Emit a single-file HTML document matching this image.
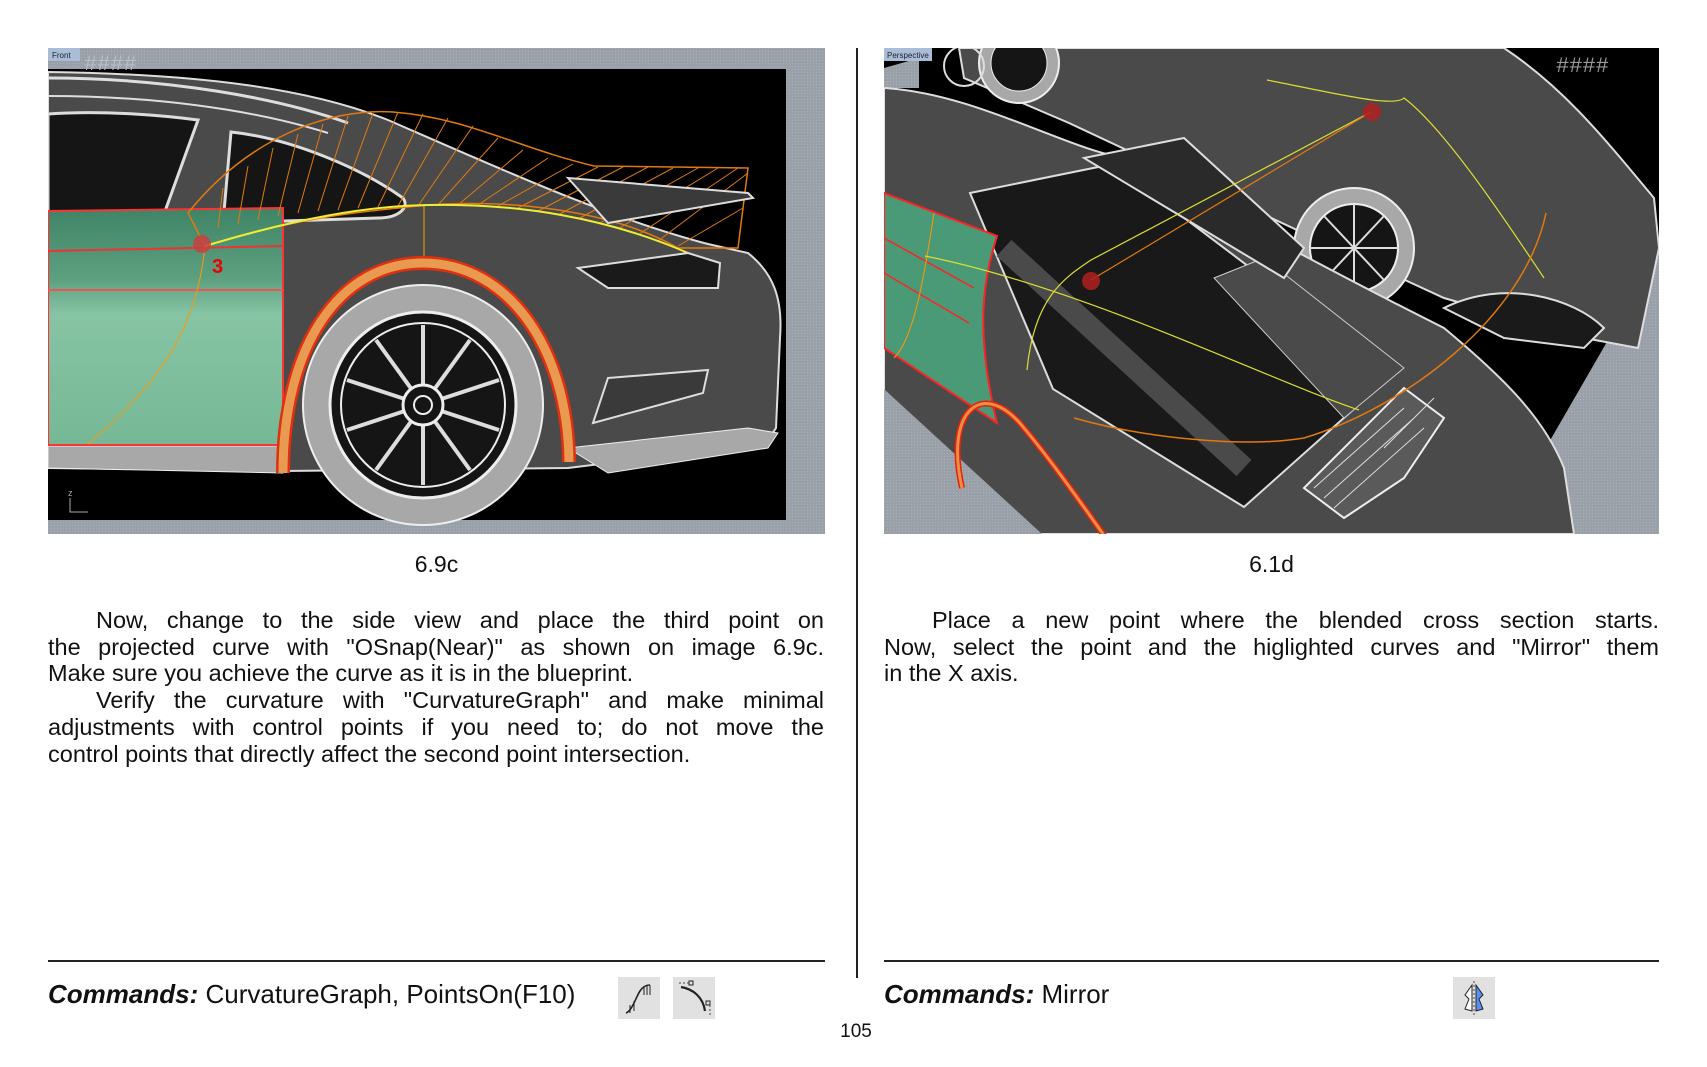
<!DOCTYPE html>
<html><head><meta charset="utf-8"><style>
html,body{margin:0;padding:0;background:#fff;}
body{width:1707px;height:1067px;position:relative;overflow:hidden;font-family:"Liberation Sans",sans-serif;color:#111;}
.abs{position:absolute;}
.cap{font-size:23px;text-align:center;width:777px;}
.p{font-size:23.5px;line-height:26.7px;width:776px;}
.p div{text-align:justify;text-align-last:justify;white-space:nowrap;}
.p div.last{text-align-last:left;}
.ind{padding-left:48px;}
.rule{height:2px;background:#222;}
.cmd{font-size:26px;}
.cmd b{font-style:italic;}
.icon{background:#e1e1e1;width:42px;height:42px;}
</style></head><body>

<!-- LEFT IMAGE -->
<svg class="abs" style="left:48px;top:48px" width="777" height="486" viewBox="0 0 777 486">
<defs>
<pattern id="hg" width="3" height="3" patternUnits="userSpaceOnUse"><rect width="3" height="3" fill="#9aa0a8"/><rect width="1" height="1" fill="#aab0b8"/></pattern>
<linearGradient id="gr" x1="0" y1="0" x2="0" y2="1"><stop offset="0" stop-color="#3f8466"/><stop offset="0.3" stop-color="#5da080"/><stop offset="0.45" stop-color="#86c4a4"/><stop offset="1" stop-color="#76b896"/></linearGradient>
</defs>
<rect width="777" height="486" fill="url(#hg)"/>
<rect x="0" y="21" width="738" height="451" fill="#000"/>
<rect x="0" y="0" width="32" height="13" fill="#a9bdd6"/>
<text x="4" y="10" font-size="8" fill="#223">Front</text>
<text x="36" y="22" font-size="22" fill="#b8bec6" font-family="Liberation Mono">####</text>
<path d="M0,24 C150,26 260,40 340,72 C450,120 560,170 660,196 L700,205 C725,225 735,250 732,290 L728,380 C720,395 700,400 666,402 L520,420 L235,423 L0,420 Z" fill="#4a4a4a" stroke="#ddd" stroke-width="2"/>
<path d="M0,30 C120,30 230,50 300,75" fill="none" stroke="#ddd" stroke-width="3"/>
<path d="M0,48 C100,48 200,60 280,85" fill="none" stroke="#ddd" stroke-width="2"/>
<path d="M0,66 C60,62 120,68 150,72 L116,166 L0,168 Z" fill="#151515" stroke="#ddd" stroke-width="3"/>
<path d="M183,84 C240,90 310,118 355,150 C362,160 350,170 330,170 L175,175 Z" fill="#151515" stroke="#ddd" stroke-width="3"/>
<path d="M0,398 L235,398 L235,425 L0,420 Z" fill="#a8a8a8" stroke="#eee"/>
<path d="M520,400 L700,380 L730,385 L720,400 L560,425 Z" fill="#a8a8a8" stroke="#eee"/>
<path d="M0,163 L235,160 L235,397 L0,397 Z" fill="url(#gr)" stroke="#f33" stroke-width="2"/>
<line x1="0" y1="203" x2="235" y2="198" stroke="#e33" stroke-width="2"/>
<line x1="0" y1="242" x2="235" y2="242" stroke="#e55" stroke-width="2"/>
<path d="M157,198 C150,270 120,330 40,396" fill="none" stroke="#f90" stroke-width="1"/>
<path d="M140,165 C200,90 280,60 345,64 C420,70 470,100 546,118 L700,120 L690,200 L630,200 C560,160 450,150 370,158 C300,165 250,170 157,198 Z" fill="none" stroke="#e07a10" stroke-width="1.5"/>
<g stroke="#e07a10" stroke-width="1">
<path d="M170,180 L175,140 M190,176 L200,118 M210,172 L225,100 M230,168 L250,86 M250,165 L275,76 M270,163 L300,68 M290,162 L325,65 M310,160 L350,64 M330,159 L375,66 M350,158 L400,70 M370,158 L425,78 M390,157 L450,90 M410,157 L475,102 M430,157 L500,110 M450,158 L525,116 M470,160 L550,119 M490,163 L575,119 M510,167 L600,119 M530,171 L625,120 M550,176 L650,120 M570,181 L670,120 M590,187 L690,120 M610,193 L700,125 M630,198 L695,160"/>
</g>
<path d="M157,198 C250,170 320,158 380,157 C470,155 560,170 640,205" fill="none" stroke="#ee3" stroke-width="2"/>
<line x1="376" y1="158" x2="376" y2="214" stroke="#f90"/>
<path d="M520,130 L700,145 L705,150 L560,175 Z" fill="#3a3a3a" stroke="#ddd" stroke-width="2"/>
<path d="M530,220 L640,205 L672,215 L670,240 L560,240 Z" fill="#1a1a1a" stroke="#ddd" stroke-width="2"/>
<path d="M560,330 L660,322 L655,345 L545,375 Z" fill="#3a3a3a" stroke="#ddd" stroke-width="2"/>
<circle cx="154" cy="196" r="9" fill="#c84040" opacity="0.85"/>
<text x="164" y="225" font-size="20" font-weight="bold" fill="#e00">3</text>
<path d="M235,425 C235,300 290,215 375,215 C460,215 520,300 521,414" fill="none" stroke="#e03010" stroke-width="14"/>
<path d="M235,425 C235,300 290,215 375,215 C460,215 520,300 521,414" fill="none" stroke="#e89a50" stroke-width="9"/>
<circle cx="375" cy="357" r="120" fill="#a8a8a8" stroke="#eee" stroke-width="2"/>
<circle cx="375" cy="357" r="93" fill="#151515" stroke="#eee" stroke-width="3"/>
<circle cx="375" cy="357" r="82" fill="none" stroke="#eee" stroke-width="2"/>
<g stroke="#ddd" stroke-width="4">
<line x1="375" y1="357" x2="375" y2="277"/><line x1="375" y1="357" x2="451" y2="332"/><line x1="375" y1="357" x2="422" y2="422"/><line x1="375" y1="357" x2="328" y2="422"/><line x1="375" y1="357" x2="299" y2="332"/>
<line x1="375" y1="357" x2="422" y2="292"/><line x1="375" y1="357" x2="451" y2="382"/><line x1="375" y1="357" x2="375" y2="437"/><line x1="375" y1="357" x2="299" y2="382"/><line x1="375" y1="357" x2="328" y2="292"/>
</g>
<circle cx="375" cy="357" r="20" fill="#151515" stroke="#eee" stroke-width="3"/>
<circle cx="375" cy="357" r="9" fill="#151515" stroke="#eee" stroke-width="2"/>
<text x="20" y="448" font-size="9" fill="#aaa">z</text>
<path d="M22,450 L22,464 L40,464" fill="none" stroke="#aaa"/>
</svg>

<div class="abs" style="left:856px;top:48px;width:2px;height:930px;background:#222"></div>

<!-- RIGHT IMAGE -->
<svg class="abs" style="left:884px;top:48px" width="775" height="486" viewBox="0 0 775 486">
<rect width="775" height="486" fill="#000"/>
<path d="M776,202 L776,486 L612,486 Z" fill="url(#hg)"/>
<path d="M0,20 L35,10 L35,40 L0,40 Z" fill="url(#hg)"/>
<!-- upper car -->
<path d="M75,0 L620,0 C680,40 720,90 770,150 L775,200 L754,300 L700,290 L560,250 L430,190 L185,75 L80,30 Z" fill="#4a4a4a" stroke="#ddd" stroke-width="2"/>
<path d="M690,0 L775,0 L775,100 Z" fill="#000"/>
<circle cx="470" cy="200" r="60" fill="#a8a8a8" stroke="#eee" stroke-width="2"/>
<circle cx="470" cy="200" r="44" fill="#151515" stroke="#eee" stroke-width="2"/>
<g stroke="#ddd" stroke-width="2"><line x1="470" y1="156" x2="470" y2="244"/><line x1="426" y1="200" x2="514" y2="200"/><line x1="440" y1="168" x2="500" y2="232"/><line x1="500" y1="168" x2="440" y2="232"/></g>
<circle cx="135" cy="15" r="40" fill="#a8a8a8" stroke="#eee" stroke-width="2"/>
<circle cx="135" cy="15" r="28" fill="#151515" stroke="#eee"/>
<path d="M560,260 C620,230 690,250 720,280 L700,300 L620,290 Z" fill="#1a1a1a" stroke="#ddd" stroke-width="2"/>
<!-- lower car -->
<path d="M0,40 C90,45 180,100 240,110 C330,160 460,230 560,280 C620,330 660,370 680,420 L690,486 L0,486 Z" fill="#4a4a4a" stroke="#ddd" stroke-width="2"/>
<path d="M0,341 L0,486 L158,486 Z" fill="url(#hg)"/>
<path d="M86,145 L229,116 L508,327 L360,459 L169,341 Z" fill="#191919" stroke="#ddd" stroke-width="2"/>
<path d="M330,230 L380,210 L520,320 L460,370 Z" fill="#4a4a4a" stroke="#ccc"/>
<path d="M120,200 L360,420" stroke="#4a4a4a" stroke-width="22"/>
<path d="M200,110 L300,90 L420,200 L400,230 Z" fill="#2a2a2a" stroke="#ddd" stroke-width="2"/>
<path d="M520,340 L560,370 L520,430 L460,470 L420,440 Z" fill="#5a5a5a" stroke="#eee" stroke-width="2"/>
<g stroke="#ddd" stroke-width="1"><path d="M430,440 L520,360 M440,450 L530,370 M450,460 L540,380 M500,400 L550,350"/></g>
<circle cx="80" cy="18" r="20" fill="none" stroke="#ddd" stroke-width="2"/>
<path d="M0,145 L113,188 C100,230 90,280 113,375 L0,300 Z" fill="#4a9a78" stroke="#f22" stroke-width="2"/>
<path d="M0,190 L90,240 M0,225 L85,275" stroke="#f22" stroke-width="1.5"/>
<path d="M50,165 C40,230 30,290 10,310" fill="none" stroke="#f90"/>
<path d="M78,440 C60,360 100,330 140,380 C190,440 240,520 260,540" fill="none" stroke="#e82010" stroke-width="6"/>
<path d="M78,440 C60,360 100,330 140,380 C190,440 240,520 260,540" fill="none" stroke="#e89040" stroke-width="3"/>
<path d="M41,208 C200,240 380,330 475,362" fill="none" stroke="#dd3" stroke-width="1.2"/>
<path d="M143,322 C150,250 180,230 207,212 L487,64" fill="none" stroke="#dd3" stroke-width="1.2"/>
<path d="M383,32 C450,45 510,60 520,50 C560,80 620,170 660,230" fill="none" stroke="#dd3" stroke-width="1.2"/>
<path d="M190,370 C260,390 360,400 420,390 C520,360 640,270 662,165" fill="none" stroke="#e07a10" stroke-width="1.5"/>
<path d="M207,232 L487,64" fill="none" stroke="#e07a10" stroke-width="1.2"/>
<circle cx="207" cy="233" r="9" fill="#b02020" opacity="0.85"/>
<circle cx="488" cy="64" r="9" fill="#b02020" opacity="0.85"/>
<rect x="0" y="0" width="48" height="13" fill="#a9bdd6"/>
<text x="3" y="10" font-size="8" fill="#223">Perspective</text>
<text x="672" y="24" font-size="22" fill="#999" font-family="Liberation Mono">####</text>
</svg>

<div class="abs cap" style="left:48px;top:551px">6.9c</div>
<div class="abs cap" style="left:884px;top:551px;width:775px">6.1d</div>

<div class="abs p" style="left:48px;top:607px">
<div class="ind">Now, change to the side view and place the third point on</div>
<div>the projected curve with "OSnap(Near)" as shown on image 6.9c.</div>
<div class="last">Make sure you achieve the curve as it is in the blueprint.</div>
<div class="ind">Verify the curvature with "CurvatureGraph" and make minimal</div>
<div>adjustments with control points if you need to; do not move the</div>
<div class="last">control points that directly affect the second point intersection.</div>
</div>

<div class="abs p" style="left:884px;top:607px;width:775px">
<div class="ind">Place a new point where the blended cross section starts.</div>
<div>Now, select the point and the higlighted curves and "Mirror" them</div>
<div class="last">in the X axis.</div>
</div>

<div class="abs rule" style="left:48px;top:960px;width:777px"></div>
<div class="abs rule" style="left:884px;top:960px;width:775px"></div>

<div class="abs cmd" style="left:48px;top:979px"><b>Commands:</b> CurvatureGraph, PointsOn(F10)</div>
<div class="abs cmd" style="left:884px;top:979px"><b>Commands:</b> Mirror</div>

<div class="abs icon" style="left:618px;top:977px"><svg width="42" height="42"><path d="M8,36 C14,34 18,20 22,14 C26,8 30,8 32,8" fill="none" stroke="#222" stroke-width="1.6"/><path d="M12,36 L12,28 M16,34 L16,24 M26,10 L26,18 M29,9 L29,18 M32,8 L32,18" stroke="#222"/></svg></div>
<div class="abs icon" style="left:673px;top:977px"><svg width="42" height="42"><path d="M8,10 C20,12 30,20 32,34" fill="none" stroke="#222" stroke-width="2.2"/><rect x="16" y="4" width="4" height="4" fill="none" stroke="#222"/><rect x="33" y="24" width="4" height="4" fill="none" stroke="#222"/><path d="M6,6 L16,6 M37,28 L37,38" stroke="#444" stroke-dasharray="2,2"/></svg></div>
<div class="abs icon" style="left:1453px;top:977px"><svg width="42" height="42"><path d="M19,8 L12,18 L16,22 L12,32 L19,34 Z" fill="#fff" stroke="#222"/><path d="M23,8 L30,18 L26,22 L30,32 L23,34 Z" fill="#5a8ef0" stroke="#222"/><path d="M21,4 L21,40" stroke="#444" stroke-dasharray="2,2"/></svg></div>

<div class="abs" style="left:826px;top:1021px;width:60px;text-align:center;font-size:19px">105</div>
</body></html>
